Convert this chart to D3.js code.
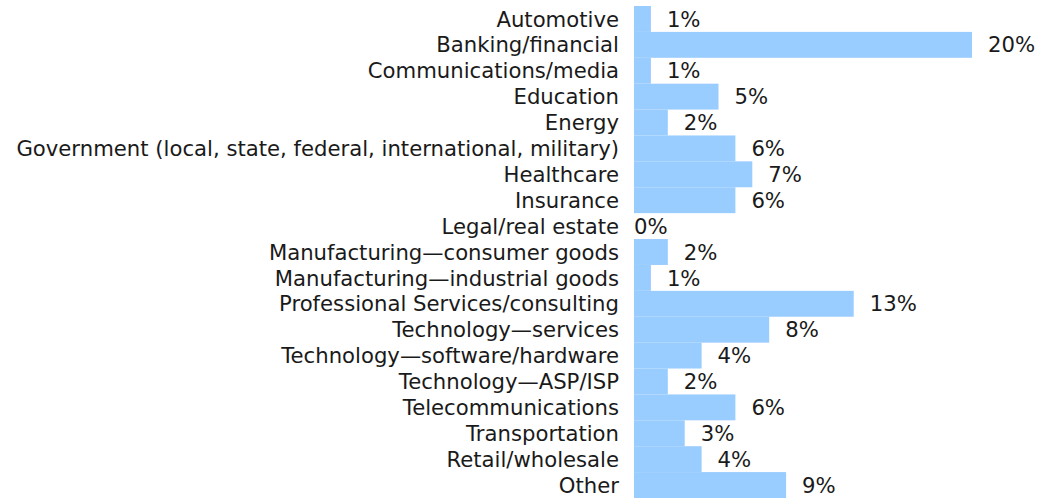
<!DOCTYPE html>
<html>
<head>
<meta charset="utf-8">
<script src="https://cdn.jsdelivr.net/npm/d3@7"></script>
<style>
  html, body { margin: 0; padding: 0; background: #fff; }
  svg text { font-family: "DejaVu Sans", Verdana, sans-serif; font-size: 21.2px; fill: #1a1a1a; }
</style>
</head>
<body>
<svg id="chart" width="1041" height="498"></svg>
<script>
// Industry share of respondents (%)
const categories = [
  "Automotive",
  "Banking/financial",
  "Communications/media",
  "Education",
  "Energy",
  "Government (local, state, federal, international, military)",
  "Healthcare",
  "Insurance",
  "Legal/real estate",
  "Manufacturing\u2014consumer goods",
  "Manufacturing\u2014industrial goods",
  "Professional Services/consulting",
  "Technology\u2014services",
  "Technology\u2014software/hardware",
  "Technology\u2014ASP/ISP",
  "Telecommunications",
  "Transportation",
  "Retail/wholesale",
  "Other"
];
const values = [1, 20, 1, 5, 2, 6, 7, 6, 0, 2, 1, 13, 8, 4, 2, 6, 3, 4, 9];

const svg = d3.select("#chart");
const plot = { left: 634, right: 972, top: 6, bottom: 498 };

const x = d3.scaleLinear().domain([0, 20]).range([plot.left, plot.right]);
const y = d3.scaleBand().domain(categories).range([plot.top, plot.bottom]).padding(0);

const rows = svg.selectAll("g.row")
  .data(categories.map((c, i) => ({ c, v: values[i] })))
  .join("g")
  .attr("class", "row");

rows.append("rect")
  .attr("x", x(0))
  .attr("y", d => y(d.c))
  .attr("width", d => x(d.v) - x(0))
  .attr("height", y.bandwidth())
  .attr("fill", "#99ccff");

rows.append("text")
  .attr("x", plot.left - 15)
  .attr("y", d => y(d.c) + y.bandwidth() / 2)
  .attr("dy", "0.36em")
  .attr("text-anchor", "end")
  .text(d => d.c);

rows.append("text")
  .attr("x", d => d.v > 0 ? x(d.v) + 16 : x(0))
  .attr("y", d => y(d.c) + y.bandwidth() / 2)
  .attr("dy", "0.36em")
  .text(d => d.v + "%");
</script>
</body>
</html>
